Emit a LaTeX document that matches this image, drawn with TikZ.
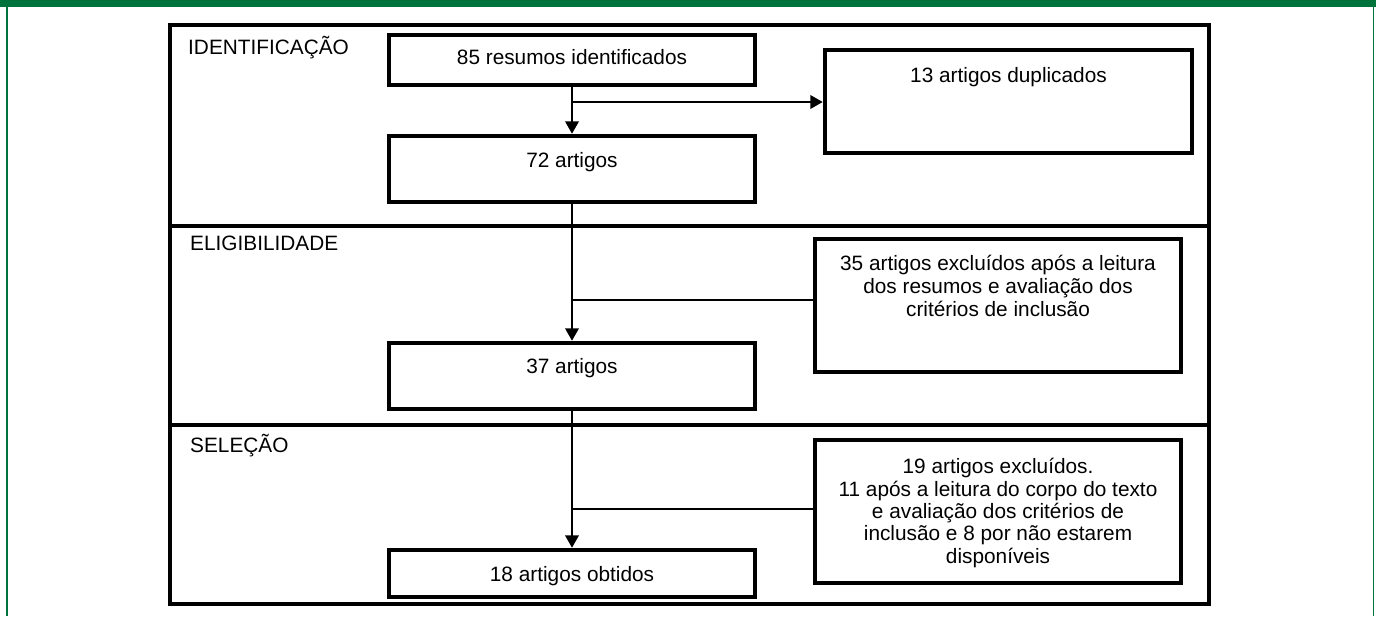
\documentclass[tikz,border=0pt]{standalone}
\usepackage{fontspec}
\setmainfont{Liberation Sans}
\usetikzlibrary{arrows.meta}
\definecolor{frameGreen}{RGB}{0,114,59}
\begin{document}
\begin{tikzpicture}[x=1pt,y=-1pt,
  panelbox/.style={draw=black,line width=4.5pt,minimum width=1039pt,inner sep=0pt},
  stagebox/.style={draw=black,line width=4.5pt,inner sep=0pt,minimum width=366pt},
  txt/.style={inner sep=0pt,align=center,font=\fontsize{20.8pt}{22.6pt}\selectfont},
  conn/.style={line width=2.3pt},
  arr/.style={conn,-{Triangle[length=12.5pt,width=13.5pt]}}]
\useasboundingbox (0,0) rectangle (1376,616);
% green frame
\fill[frameGreen] (0,0) rectangle (1376,7);
\draw[frameGreen,line width=1.3pt] (7,7) -- (7,616);
\draw[frameGreen,line width=1.3pt] (1373.5,7) -- (1373.5,616);
% panels
\node[panelbox,minimum height=201pt] (p1) at (689.5,125.5) {};
\node[panelbox,minimum height=199pt] (p2) at (689.5,325.5) {};
\node[panelbox,minimum height=179pt] (p3) at (689.5,514.5) {};
\node[txt,anchor=base west] (l1) at (188,54) {IDENTIFICAÇÃO};
\node[txt,anchor=base west] (l2) at (190,250) {ELIGIBILIDADE};
\node[txt,anchor=base west] (l3) at (190,452) {SELEÇÃO};
% boxes
\node[stagebox,minimum height=50pt] (b85) at (572,60) {};
\node[stagebox,minimum height=66pt] (b72) at (572,169) {};
\node[stagebox,minimum height=66pt] (b37) at (572,376) {};
\node[stagebox,minimum height=47pt] (b18) at (572,573.5) {};
\node[stagebox,minimum width=367pt,minimum height=103pt] (b13) at (1008.5,101.5) {};
\node[stagebox,minimum height=133pt] (b35) at (998,305.5) {};
\node[stagebox,minimum height=143pt] (b19) at (998,511.5) {};
% texts
\node[txt,anchor=base] (t85) at (572,64) {85 resumos identificados};
\node[txt,anchor=base] (t72) at (572,167) {72 artigos};
\node[txt,anchor=base] (t37) at (572,373) {37 artigos};
\node[txt,anchor=base] (t18) at (572,581.5) {18 artigos obtidos};
\node[txt,anchor=base] (t13) at (1008.5,82) {13 artigos duplicados};
\node[txt,anchor=base,font=\fontsize{20.8pt}{23pt}\selectfont] (t35) at (998,316) {35 artigos excluídos após a leitura\\dos resumos e avaliação dos\\critérios de inclusão};
\node[txt,anchor=base,font=\fontsize{20.8pt}{22.3pt}\selectfont] (t19) at (998,563) {19 artigos excluídos.\\11 após a leitura do corpo do texto\\e avaliação dos critérios de\\inclusão e 8 por não estarem\\disponíveis};
% junctions
\coordinate (j1) at (572,102);
\coordinate (j2) at (572,300);
\coordinate (j3) at (572,509);
% connectors
\draw[arr] (b85.south) -- (b72.north);
\draw[arr] (j1) -- (b13.west |- j1);
\draw[arr] (b72.south) -- (b37.north);
\draw[conn] (b35.west |- j2) -- (j2);
\draw[arr] (b37.south) -- (b18.north);
\draw[conn] (b19.west |- j3) -- (j3);
\end{tikzpicture}
\end{document}
